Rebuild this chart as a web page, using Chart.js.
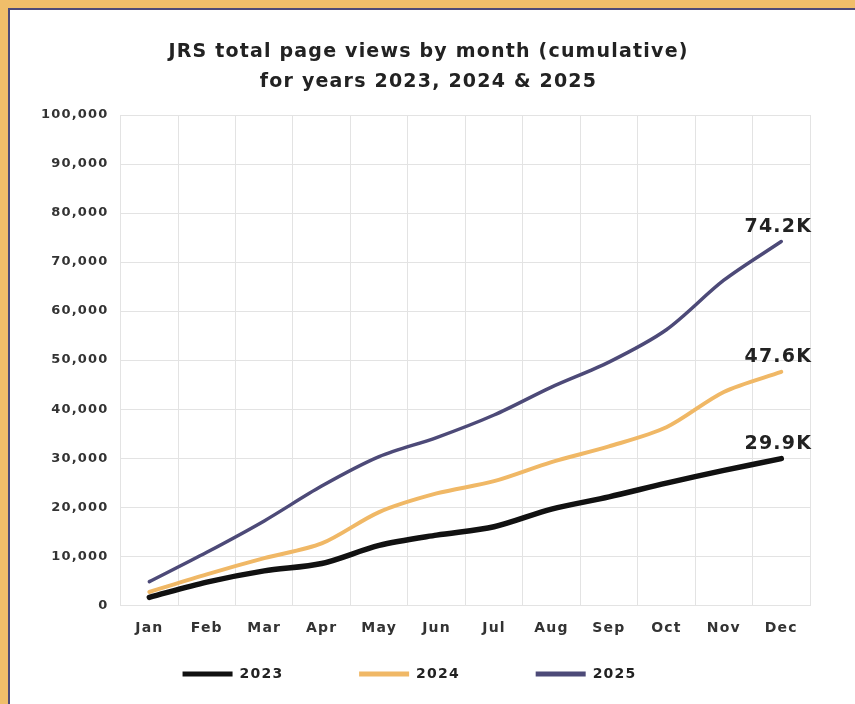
<!DOCTYPE html>
<html>

<head>
	<title>JRS page views</title>
	<script src="https://cdn.jsdelivr.net/npm/chart.js"></script>
	<style>
		body { margin: 0; background: #f0be6a; overflow: hidden; }
		#frame {
			position: absolute; left: 8px; top: 8px; width: 847px; height: 696px;
			background: #fff; border-top: 2px solid #4d4a78; border-left: 2px solid #4d4a78;
		}
	</style>
</head>

<body>
	<div id="frame">
		<canvas id="canvas" width="845" height="694"></canvas>
	</div>

	<script>
		// Valores (visualizações acumuladas)
		const months = ['Jan', 'Feb', 'Mar', 'Apr', 'May', 'Jun', 'Jul', 'Aug', 'Sep', 'Oct', 'Nov', 'Dec']
		const views2023 = [1600, 4700, 7000, 8500, 12200, 14300, 16000, 19600, 22100, 24900, 27500, 29900]
		const views2024 = [2700, 6300, 9600, 12600, 19000, 22800, 25300, 29200, 32400, 36300, 43500, 47600]
		const views2025 = [4800, 10800, 17200, 24300, 30300, 34200, 38800, 44500, 49600, 56200, 66300, 74200]
		const endLabels = ['29.9K', '47.6K', '74.2K']

		const FONT = "'DejaVu Sans', sans-serif"

		// o texto do original é mais espaçado
		const spacingPlugin = {
			id: 'spacing',
			beforeUpdate(chart) { chart.ctx.letterSpacing = '1.2px' },
			beforeDraw(chart) { chart.ctx.letterSpacing = '1.2px' },
			// título e legenda um pouco deslocados como no original
			afterLayout(chart) {
				chart.titleBlock.left += 9
				chart.titleBlock.right += 9
				chart.legend.left -= 10
				chart.legend.right -= 10
			}
		}

		// escreve o valor final acima do último ponto de cada série
		const endLabelPlugin = {
			id: 'endLabels',
			afterDatasetsDraw(chart) {
				const ctx = chart.ctx
				ctx.save()
				ctx.font = 'bold 19px ' + FONT
				ctx.fillStyle = '#222'
				ctx.textAlign = 'center'
				ctx.textBaseline = 'alphabetic'
				chart.data.datasets.forEach((ds, i) => {
					const pts = chart.getDatasetMeta(i).data
					const last = pts[pts.length - 1]
					ctx.fillText(endLabels[i], last.x - 3, last.y - 10)
				})
				ctx.restore()
			}
		}

		const ctx = document.querySelector('#canvas').getContext('2d')
		const chart = new Chart(ctx, {
			type: 'line',
			data: {
				labels: months,
				datasets: [
					{ label: '2023', data: views2023, borderColor: '#111', backgroundColor: '#111', borderWidth: 5.5 },
					{ label: '2024', data: views2024, borderColor: '#f0b866', backgroundColor: '#f0b866', borderWidth: 4 },
					{ label: '2025', data: views2025, borderColor: '#4d4a78', backgroundColor: '#4d4a78', borderWidth: 3.5 }
				]
			},
			options: {
				responsive: false,
				animation: false,
				elements: {
					point: { radius: 0 },
					line: { tension: 0.3, borderCapStyle: 'round' }
				},
				layout: { padding: { left: 19, right: 45, top: 27, bottom: 13 } },
				plugins: {
					title: {
						display: true,
						text: ['JRS total page views by month (cumulative)', 'for years 2023, 2024 & 2025'],
						color: '#222',
						font: { family: FONT, size: 19, weight: 'bold', lineHeight: 1.58 },
						padding: { top: 0, bottom: 18 }
					},
					legend: {
						position: 'bottom',
						labels: {
							color: '#222',
							font: { family: FONT, size: 14, weight: 'bold' },
							boxWidth: 50,
							boxHeight: 5,
							padding: 15,
							generateLabels(chart) {
								const items = Chart.defaults.plugins.legend.labels.generateLabels(chart)
								return items.map((item, i) => ({
									...item,
									lineWidth: 0,
									text: i < items.length - 1 ? item.text + '\u2003\u2003\u2003\u2003' : item.text
								}))
							}
						}
					},
					tooltip: { enabled: false }
				},
				scales: {
					x: {
						offset: true,
						grid: { color: '#e3e3e3', offset: true, drawTicks: false },
						border: { color: '#e3e3e3' },
						ticks: { color: '#333', padding: 15, font: { family: FONT, size: 14, weight: 'bold' } }
					},
					y: {
						min: 0,
						max: 100000,
						grid: { color: '#e3e3e3', drawTicks: false },
						border: { color: '#e3e3e3' },
						ticks: {
							stepSize: 10000,
							color: '#333',
							padding: 12,
							font: { family: FONT, size: 13, weight: 'bold' },
							callback: v => v.toLocaleString('en-US')
						}
					}
				}
			},
			plugins: [spacingPlugin, endLabelPlugin]
		});
	</script>
</body>

</html>
